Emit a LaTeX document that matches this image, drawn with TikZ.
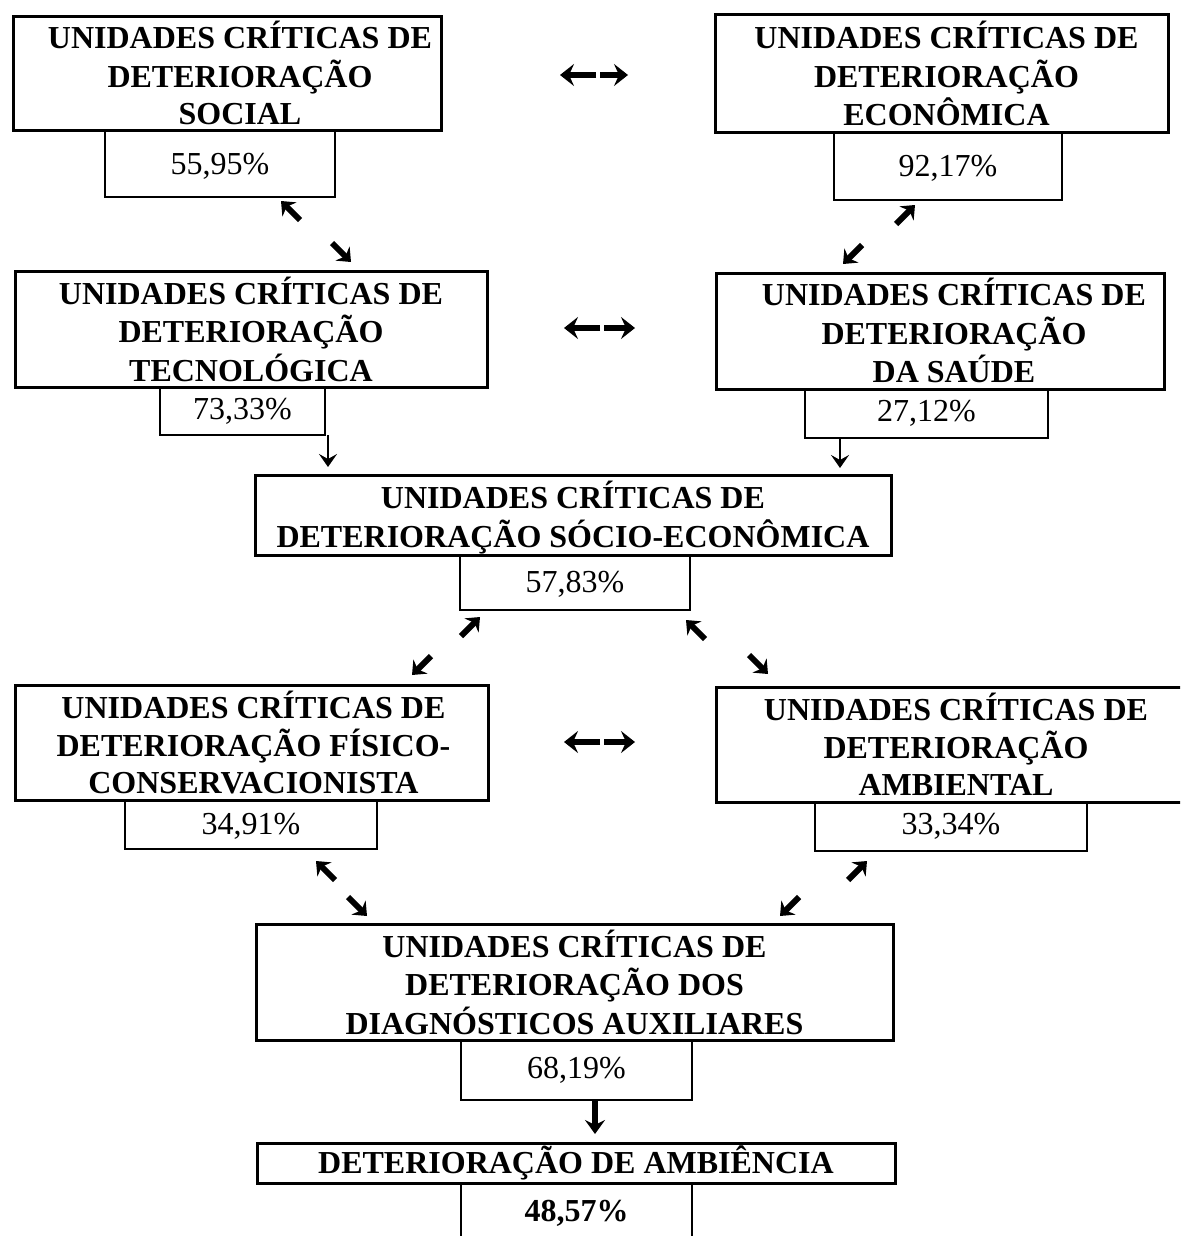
\documentclass[tikz,border=0pt]{standalone}
\usepackage{fontspec}
\setmainfont{Liberation Serif}
\usetikzlibrary{arrows.meta}
\newcommand{\bx}[2]{\hspace*{#1}\raisebox{-2.5pt}[\height][\depth]{\begin{tabular}{@{}c@{}}#2\end{tabular}}}
\newcommand{\pc}[2]{\raisebox{#1}[\height][\depth]{#2}}
\tikzset{
  bigbox/.style={draw, line width=1.5pt, inner sep=0pt,
    font=\bfseries\fontsize{16}{18.5}\selectfont},
  pctbox/.style={draw, line width=1.4pt, inner sep=0pt, align=center,
    font=\fontsize{16}{18.5}\selectfont},
  harr/.style={line width=2.8pt, -{Stealth[length=7pt,width=11pt,inset=2.5pt]}},
  darr/.style={line width=3pt, -{Stealth[length=6pt,width=10pt,inset=2pt]}},
  varr/.style={line width=1.4pt, -{Stealth[length=6.5pt,width=9pt,inset=2.5pt]}},
  vbarr/.style={line width=2.8pt, -{Stealth[length=7pt,width=10pt,inset=2.5pt]}},
}
\begin{document}
\begin{tikzpicture}[x=0.5pt,y=-0.5pt]
\useasboundingbox (0,0) rectangle (1180,1236);
\clip (0,0) rectangle (1180,1236);
\fill[white] (0,0) rectangle (1180,1236);

% row 1
\node[bigbox, minimum width=214pt, minimum height=56.5pt] (soc) at (227,73.5)
  {\bx{13pt}{UNIDADES CRÍTICAS DE\\DETERIORAÇÃO\\SOCIAL}};
\node[pctbox, minimum width=115pt, minimum height=33.5pt] (socp) at (220,163.5) {\pc{-1.5pt}{55,95\%}};
\node[bigbox, minimum width=226.5pt, minimum height=59pt] (eco) at (941.5,74)
  {\bx{5pt}{UNIDADES CRÍTICAS DE\\DETERIORAÇÃO\\ECONÔMICA}};
\node[pctbox, minimum width=114pt, minimum height=33.5pt] (ecop) at (948,166.5) {\pc{-1pt}{92,17\%}};

% row 2
\node[bigbox, minimum width=236pt, minimum height=57.5pt] (tec) at (251,329.5)
  {\bx{0pt}{UNIDADES CRÍTICAS DE\\DETERIORAÇÃO\\TECNOLÓGICA}};
\node[pctbox, minimum width=82.5pt, minimum height=24pt] (tecp) at (242.5,411) {73,33\%};
\node[bigbox, minimum width=224pt, minimum height=58pt] (sau) at (940,331)
  {\bx{14pt}{UNIDADES CRÍTICAS DE\\DETERIORAÇÃO\\DA SAÚDE}};
\node[pctbox, minimum width=121.5pt, minimum height=24.5pt] (saup) at (926.5,413.5) {27,12\%};

% row 3
\node[bigbox, minimum width=318pt, minimum height=40pt] (se) at (573,515)
  {\bx{0pt}{UNIDADES CRÍTICAS DE\\DETERIORAÇÃO SÓCIO-ECONÔMICA}};
\node[pctbox, minimum width=115pt, minimum height=27.5pt] (sep) at (575,582.5) {\pc{-1pt}{57,83\%}};

% row 4
\node[bigbox, minimum width=236.5pt, minimum height=57pt] (fis) at (251.5,743)
  {\bx{2pt}{UNIDADES CRÍTICAS DE\\DETERIORAÇÃO FÍSICO-\\CONSERVACIONISTA}};
\node[pctbox, minimum width=126pt, minimum height=24.5pt] (fisp) at (251,824.5) {\pc{-1pt}{34,91\%}};
\node[bigbox, minimum width=235pt, minimum height=57pt] (amb) at (951,745)
  {\bx{5pt}{UNIDADES CRÍTICAS DE\\DETERIORAÇÃO\\AMBIENTAL}};
\node[pctbox, minimum width=136pt, minimum height=24.5pt] (ambp) at (951,826.5) {33,34\%};

% row 5
\node[bigbox, minimum width=318.5pt, minimum height=57.5pt] (diag) at (574.5,982.5)
  {\bx{0pt}{UNIDADES CRÍTICAS DE\\DETERIORAÇÃO DOS\\DIAGNÓSTICOS AUXILIARES}};
\node[pctbox, minimum width=115.5pt, minimum height=30pt] (diagp) at (576.5,1070) {68,19\%};

% row 6
\node[bigbox, minimum width=319pt, minimum height=20pt] (ambi) at (576,1163)
  {DETERIORAÇÃO DE AMBIÊNCIA};
\node[pctbox, minimum width=115.5pt, minimum height=31pt] (ambip) at (576.5,1214) {};
\node[font=\bfseries\fontsize{16}{18.5}\selectfont] (ambit) at (576.5,1213) {48,57\%};

% horizontal double arrows
\coordinate (h1a) at (596,75);  \coordinate (h1b) at (560,75);
\coordinate (h1c) at (600,75);  \coordinate (h1d) at (628,75);
\draw[harr] (h1a) -- (h1b); \draw[harr] (h1c) -- (h1d);
\coordinate (h2a) at (600,328); \coordinate (h2b) at (564,328);
\coordinate (h2c) at (604,328); \coordinate (h2d) at (635,328);
\draw[harr] (h2a) -- (h2b); \draw[harr] (h2c) -- (h2d);
\coordinate (h3a) at (600,742); \coordinate (h3b) at (564,742);
\coordinate (h3c) at (604,742); \coordinate (h3d) at (635,742);
\draw[harr] (h3a) -- (h3b); \draw[harr] (h3c) -- (h3d);

% diagonal arrows
\coordinate (d1a) at (300,220); \coordinate (d1b) at (281,201); \draw[darr] (d1a) -- (d1b);
\coordinate (d2a) at (332,243); \coordinate (d2b) at (351,262); \draw[darr] (d2a) -- (d2b);
\coordinate (d3a) at (896,224); \coordinate (d3b) at (915,205); \draw[darr] (d3a) -- (d3b);
\coordinate (d4a) at (862,245); \coordinate (d4b) at (843,264); \draw[darr] (d4a) -- (d4b);
\coordinate (d5a) at (461,636); \coordinate (d5b) at (480,617); \draw[darr] (d5a) -- (d5b);
\coordinate (d6a) at (705,639); \coordinate (d6b) at (686,620); \draw[darr] (d6a) -- (d6b);
\coordinate (d7a) at (431,656); \coordinate (d7b) at (412,675); \draw[darr] (d7a) -- (d7b);
\coordinate (d8a) at (749,655); \coordinate (d8b) at (768,674); \draw[darr] (d8a) -- (d8b);
\coordinate (d9a) at (335,880); \coordinate (d9b) at (316,861); \draw[darr] (d9a) -- (d9b);
\coordinate (d10a) at (348,897); \coordinate (d10b) at (367,916); \draw[darr] (d10a) -- (d10b);
\coordinate (d11a) at (848,880); \coordinate (d11b) at (867,861); \draw[darr] (d11a) -- (d11b);
\coordinate (d12a) at (799,897); \coordinate (d12b) at (780,916); \draw[darr] (d12a) -- (d12b);

% vertical arrows
\coordinate (v1a) at (328,435); \coordinate (v1b) at (328,467); \draw[varr] (v1a) -- (v1b);
\coordinate (v2a) at (840,438); \coordinate (v2b) at (840,468); \draw[varr] (v2a) -- (v2b);
\coordinate (v3a) at (595,1100); \coordinate (v3b) at (595,1134); \draw[vbarr] (v3a) -- (v3b);
\end{tikzpicture}
\end{document}
